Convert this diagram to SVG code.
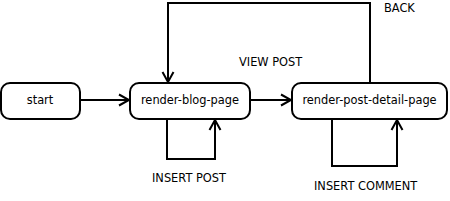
<svg xmlns="http://www.w3.org/2000/svg" width="450" height="201" viewBox="0 0 450 201">
<defs>
<style>
.node rect{fill:#fff;stroke:#000;stroke-width:2}
.node text{font-family:"DejaVu Sans",sans-serif;font-size:11.4px;fill:#000;text-anchor:middle}
.lbl{font-family:"DejaVu Sans",sans-serif;font-size:11.4px;fill:#000}
#edges path{fill:none;stroke:#000;stroke-width:2}
</style>
<marker id="arr" markerUnits="userSpaceOnUse" markerWidth="14" markerHeight="14" viewBox="-12 -7 14 14" refX="0" refY="0" orient="auto">
<path d="M-10,-5.5 L0,0 L-10,5.5" fill="none" stroke="#000" stroke-width="2"/>
</marker>
</defs>
<rect width="450" height="201" fill="#fff"/>
<g id="edges">
<path d="M80,100 H129" marker-end="url(#arr)"/>
<path d="M250,100 H291" marker-end="url(#arr)"/>
<path d="M370,83 V3 H168 V82" marker-end="url(#arr)"/>
<path d="M167,119 V159 H215 V120" marker-end="url(#arr)"/>
<path d="M332,119 V166 H397 V120" marker-end="url(#arr)"/>
</g>
<g id="start" class="node"><rect x="1" y="83" width="79" height="36" rx="9"/><text x="40" y="104">start</text></g>
<g id="render-blog-page" class="node"><rect x="130" y="83" width="120" height="36" rx="9"/><text x="190" y="104">render-blog-page</text></g>
<g id="render-post-detail-page" class="node"><rect x="292" y="83" width="155" height="36" rx="9"/><text x="369.5" y="104">render-post-detail-page</text></g>
<g id="labels">
<text class="lbl" x="384" y="12">BACK</text>
<text class="lbl" x="239" y="66">VIEW POST</text>
<text class="lbl" x="152" y="182">INSERT POST</text>
<text class="lbl" x="314" y="190">INSERT COMMENT</text>
</g>
</svg>
